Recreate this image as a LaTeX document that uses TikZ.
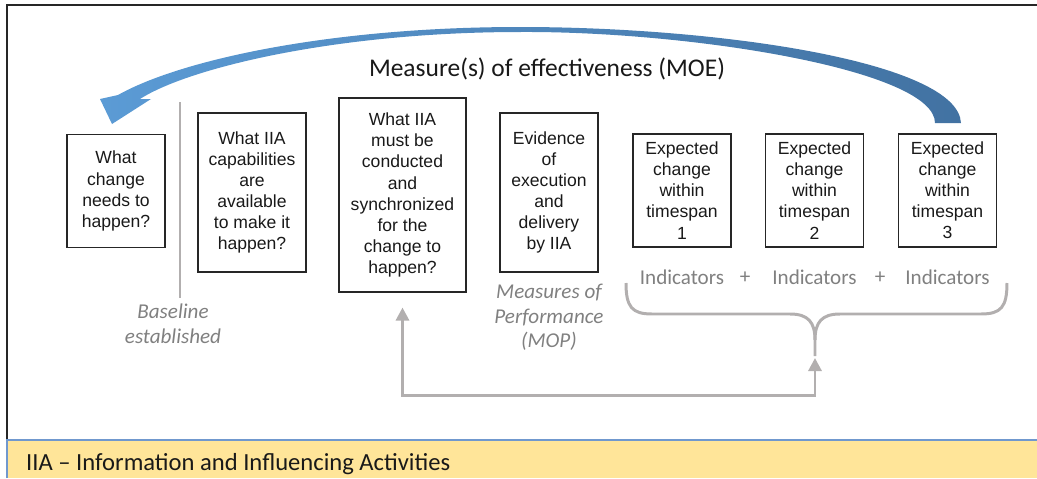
\documentclass[tikz,border=0pt]{standalone}
\usepackage{fontspec}
\setmainfont{Liberation Sans}
\newfontfamily\calibri{Carlito}
\usetikzlibrary{arrows.meta}
\definecolor{moeLight}{RGB}{91,155,213}
\definecolor{moeDark}{RGB}{66,114,162}
\definecolor{bandFill}{RGB}{255,229,153}
\definecolor{bandLine}{RGB}{112,152,206}
\definecolor{softGray}{RGB}{178,175,175}
\tikzstyle{stage} = [draw=black!85, line width=0.6pt, text=black!90, align=center, font=\fontsize{10}{12}\selectfont, minimum width=19.6mm, minimum height=22.6mm, inner sep=1pt]
\tikzstyle{stageMid} = [stage, minimum width=21.6mm, minimum height=31.8mm]
\tikzstyle{stageTall} = [stage, minimum width=25.4mm, minimum height=38.8mm]
\tikzstyle{note} = [text=black!50, align=center, font=\calibri\itshape\fontsize{12}{14}\selectfont]
\tikzstyle{ind} = [text=black!50, font=\calibri\fontsize{12}{14}\selectfont]
\tikzstyle{gline} = [draw, line width=1.7pt, color=softGray]
\tikzstyle{fb} = [gline, {Triangle[length=2.6mm,width=2.6mm]}-{Triangle[length=2.6mm,width=2.6mm]}]
\newcommand{\stage}[3]{
node (s#1) [#2] {#3}}
\newcommand{\indic}[2]{
node (i#1) [ind] {#2}}

\begin{document}
\begin{tikzpicture}[x=0.2mm, y=-0.2mm]
	\useasboundingbox (0,0) rectangle (1037,478);

	% Draw frame and bottom band
	\draw [line width=0.8pt, black!85] (7,440) -- (7,5) -- (1037,5);
	\fill [bandFill] (7,440) rectangle (1037,478);
	\draw [bandLine, line width=0.7pt] (7,478) -- (7,440) -- (1037,440);
	\path (20,470) node (band) [anchor=base west, text=black!90, font=\calibri\fontsize{14}{16}\selectfont] {IIA – Information and Influencing Activities};

	% Draw diagram elements
	\path (116,191) \stage{1}{stage}{What\\change\\needs to\\happen?};
	\path (s1.center)+(136,1.5) \stage{2}{stageMid}{What IIA\\capabilities\\are\\available\\to make it\\happen?};
	\path (s2.center)+(150.5,2.5) \stage{3}{stageTall}{What IIA\\must be\\conducted\\and\\synchronized\\for the\\change to\\happen?};
	\path (s3.center)+(146.5,-2.5) \stage{4}{stageMid, minimum width=19.6mm}{Evidence\\of\\execution\\and\\delivery\\by IIA};
	\path (s4.center)+(133,-2) \stage{5}{stage}{Expected\\change\\within\\timespan\\1};
	\path (s5.center)+(132.5,0) \stage{6}{stage}{Expected\\change\\within\\timespan\\2};
	\path (s6.center)+(133,0) \stage{7}{stage}{Expected\\change\\within\\timespan\\3};

	\path (547,69) node (moe) [text=black!90, font=\calibri\fontsize{14.5}{17}\selectfont] {Measure(s) of effectiveness (MOE)};
	\path (173,324) node (base) [note] {Baseline\\established};
	\path (s4.south)+(0,45) node (mop) [note] {Measures of\\Performance\\(MOP)};

	\path (s5.south)+(0,30) \indic{1}{Indicators};
	\path (s6.south)+(0,30) \indic{2}{Indicators};
	\path (s7.south)+(0,30) \indic{3}{Indicators};
	\path (i1)+(63,0) node (plus1) [ind] {+};
	\path (i2)+(65.5,0) node (plus2) [ind] {+};

	% Baseline marker and brace
	\draw [gline] (180,102) -- (180,298);
	\coordinate (cusp) at (815,358);
	\draw [gline] (626,283) .. controls (626,307) and (632,314) .. (652,314) -- (790,314) .. controls (808,314) and (815,322) .. (815,340) -- (815,356);
	\draw [gline] (1007,283) .. controls (1007,307) and (1001,314) .. (981,314) -- (840,314) .. controls (822,314) and (815,322) .. (815,340);

	% Draw arrows
	\path (s3.south)+(0,15) coordinate (fbtop);
	\draw [fb] (fbtop) -- ++(0,88) -| (cusp);
	\shade [left color=moeLight, right color=moeDark] (961,123) .. controls (958,62) and (720,27) .. (520,27) .. controls (330,27) and (180,60) .. (118,95) -- (100,99) -- (112,124) -- (151,99) -- (140,99) .. controls (190,67) and (340,32) .. (520,32) .. controls (690,31) and (935,70) .. (935,123) -- cycle;

\end{tikzpicture}
\end{document}
